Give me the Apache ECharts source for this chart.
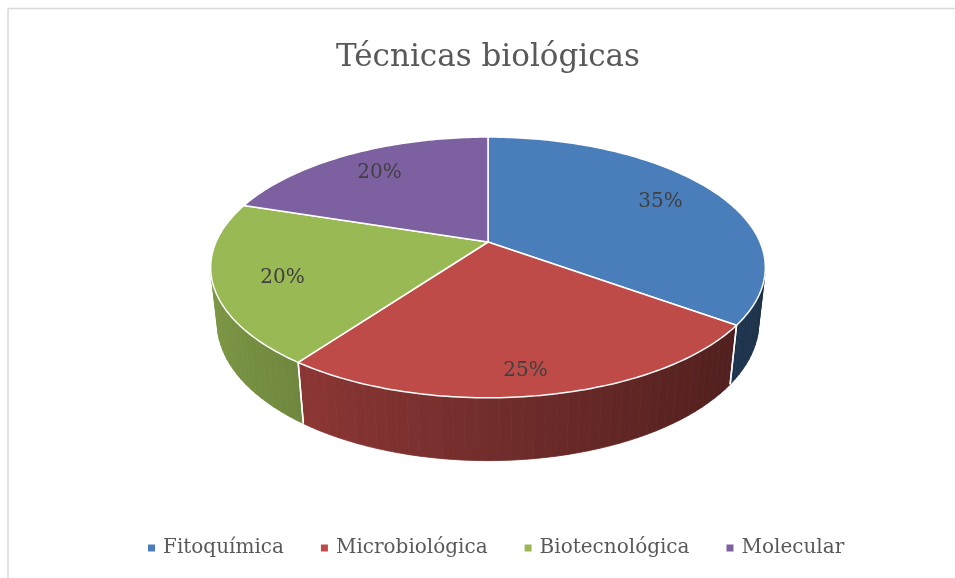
<!DOCTYPE html>
<html>
<head>
<meta charset="utf-8">
<title>Técnicas biológicas</title>
<script src="https://cdn.jsdelivr.net/npm/echarts@6/dist/echarts.min.js"></script>
<style>
    html, body { margin: 0; padding: 0; background: #fff; overflow: hidden; }
    #divChart { width: 955px; height: 578px; }
</style>
</head>
<body>
<div id="divChart"></div>
<script>
    var categories = ['Fitoquímica', 'Microbiológica', 'Biotecnológica', 'Molecular'];
    var values = [35, 25, 20, 20];
    var colors = ['#4a7ebb', '#be4b48', '#98b954', '#7d60a0'];

    var total = values.reduce(function (s, v) { return s + v; }, 0);
    var starts = [];
    var acc = 0;
    for (var i = 0; i < values.length; i++) {
        starts.push(acc / total * 360);
        acc += values[i];
    }

    // perspective of the 3d pie (centre, scale, camera distance, tilt, thickness)
    var cx = 488, cy = 242, k = 272, D = 4.55, sinT = 0.461, cosT = 0.887, h = 0.231;

    function project(X, Y, Z) {
        var s = D / (D - Y * cosT - Z * sinT);
        return [cx + k * X * s, cy + k * (Y * sinT - Z * cosT) * s];
    }
    function rim(deg, r, Z) {
        var a = deg * Math.PI / 180;
        return project(r * Math.sin(a), -r * Math.cos(a), Z);
    }
    function area(pts) {
        var s = 0;
        for (var i = 0; i < pts.length; i++) {
            var p = pts[i], q = pts[(i + 1) % pts.length];
            s += p[0] * q[1] - q[0] * p[1];
        }
        return s;
    }
    function wallQuad(a, b) {
        return [rim(a, 1, 0), rim(b, 1, 0), rim(b, 1, -h), rim(a, 1, -h)];
    }
    function shade(hex, f) {
        var n = parseInt(hex.slice(1), 16);
        var r = Math.round(((n >> 16) & 255) * f);
        var g = Math.round(((n >> 8) & 255) * f);
        var b = Math.round((n & 255) * f);
        return 'rgb(' + r + ',' + g + ',' + b + ')';
    }

    function renderSlice(idx) {
        return function (params, api) {
            var a0 = starts[idx];
            var a1 = a0 + values[idx] / total * 360;
            var color = colors[idx];
            var children = [];
            // outer wall, only the part facing the viewer
            var step = 2;
            for (var a = a0; a < a1 - 1e-6; a += step) {
                var b = Math.min(a + step, a1);
                var quad = wallQuad(a, b);
                if (area(quad) >= 0) continue;
                var m = (a + b) / 2 * Math.PI / 180;
                var c = shade(color, 0.6 - 0.22 * Math.sin(m));
                children.push({
                    type: 'polygon', z2: 1,
                    shape: { points: quad },
                    style: { fill: c, stroke: c, lineWidth: 0.8 }
                });
            }
            // white edges where slices meet on the wall
            [a0, a1].forEach(function (a) {
                if (area(wallQuad(a - 0.5, a + 0.5)) < 0) {
                    var t = rim(a, 1, 0), u = rim(a, 1, -h);
                    children.push({
                        type: 'line', z2: 2,
                        shape: { x1: t[0], y1: t[1], x2: u[0], y2: u[1] },
                        style: { stroke: '#fff', lineWidth: 1.5 }
                    });
                }
            });
            // top face
            var pts = [project(0, 0, 0)];
            for (var d = a0; d < a1; d += 1) pts.push(rim(d, 1, 0));
            pts.push(rim(a1, 1, 0));
            children.push({
                type: 'polygon', z2: 3,
                shape: { points: pts },
                style: { fill: color, stroke: '#fff', lineWidth: 1.5, lineJoin: 'round' }
            });
            // percentage label
            var mid = (a0 + a1) / 2;
            var yu = -Math.cos(mid * Math.PI / 180);
            var lp = rim(mid, 0.76, -0.3 * h * Math.max(0, yu));
            children.push({
                type: 'text', z2: 4,
                x: lp[0], y: lp[1],
                style: {
                    text: Math.round(values[idx] / total * 100) + '%',
                    font: '20px "DejaVu Serif"',
                    fill: '#404040',
                    textAlign: 'center',
                    textVerticalAlign: 'middle'
                }
            });
            return { type: 'group', children: children };
        };
    }

    var series = [];
    for (var j = 0; j < categories.length; j++) {
        series.push({
            name: categories[j],
            type: 'custom',
            coordinateSystem: 'none',
            silent: true,
            data: [values[j]],
            renderItem: renderSlice(j)
        });
    }

    var myChart = echarts.init(document.getElementById('divChart'));
    myChart.setOption({
        animation: false,
        color: colors,
        title: {
            text: 'Técnicas biológicas',
            left: 336,
            top: 40,
            padding: 0,
            textStyle: {
                fontFamily: 'DejaVu Serif',
                fontSize: 31,
                fontWeight: 'normal',
                color: '#595959',
                lineHeight: 36
            }
        },
        legend: {
            data: categories,
            left: 148,
            top: 536,
            padding: 0,
            icon: 'rect',
            itemWidth: 7,
            itemHeight: 7,
            itemGap: 37,
            selectedMode: false,
            textStyle: {
                fontFamily: 'DejaVu Serif',
                fontSize: 20,
                color: '#595959',
                padding: [0, 0, 0, 3],
                lineHeight: 24
            }
        },
        // chart area border: only its left and top edges fall inside the picture
        graphic: [{
            type: 'line',
            silent: true,
            shape: { x1: 8, y1: 8.5, x2: 8, y2: 578 },
            style: { stroke: '#d9d9d9', lineWidth: 1.5 }
        }, {
            type: 'line',
            silent: true,
            shape: { x1: 8, y1: 8.5, x2: 955, y2: 8.5 },
            style: { stroke: '#d9d9d9', lineWidth: 1.5 }
        }],
        series: series
    });
</script>
</body>
</html>
